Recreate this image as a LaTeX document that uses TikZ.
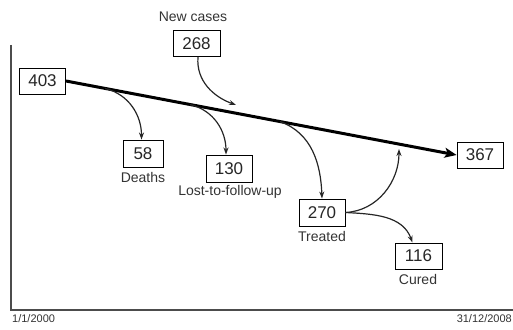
\documentclass[tikz,border=0pt]{standalone}
\usepackage{fontspec}
\setmainfont{Liberation Sans}
\usetikzlibrary{arrows.meta,calc}
\begin{document}
\begin{tikzpicture}[x=1pt,y=1pt,
  box/.style={draw=black,line width=0.9pt,minimum width=#1,minimum height=26pt,inner sep=0pt,font=\fontsize{17}{20}\selectfont,text=black!85},
  lab/.style={inner sep=0pt,font=\fontsize{14}{16}\selectfont,text=black!80},
  datelab/.style={inner sep=0pt,font=\fontsize{11}{13}\selectfont,text=black!80},
  flow/.style={line width=1.2pt,draw=black!85,-{Stealth[length=7pt,width=5pt]}},
  mainflow/.style={line width=3pt,draw=black,-{Stealth[length=12pt,width=10pt,inset=3pt]}},
  axis/.style={line width=1.4pt,draw=black!70}]
\useasboundingbox (0,0) rectangle (513,329);
% axes
\coordinate (ytop) at (11,284);
\coordinate (orig) at (11,19);
\coordinate (xend) at (513,19);
\draw[axis] (ytop) -- (orig) -- (xend);
\node[datelab,anchor=west] (d1) at (12,10) {1/1/2000};
\node[datelab,anchor=east] (d2) at (512,10) {31/12/2008};
% boxes
\node[box=46pt] (n403) at (42.5,248) {403};
\node[box=47pt] (n268) at (196.5,285.5) {268};
\node[lab] (lnew) at (193,312) {New cases};
\node[box=40pt,minimum height=27pt] (n58) at (143,175.5) {58};
\node[lab] (l58) at (143,152) {Deaths};
\node[box=46pt,minimum height=27pt] (n130) at (229,160.5) {130};
\node[lab] (l130) at (230,137) {Lost-to-follow-up};
\node[box=46pt,minimum height=27pt] (n270) at (322,116.5) {270};
\node[lab] (l270) at (322,93) {Treated};
\node[box=47pt] (n116) at (418.5,73) {116};
\node[lab] (l116) at (418,50) {Cured};
\node[box=46pt] (n367) at (480,174) {367};
% main flow
\draw[mainflow] (n403.east) -- (n367.west);
\coordinate (p1) at ($(n403.east)!0.10!(n367.west)$);
\coordinate (p2) at ($(n403.east)!0.318!(n367.west)$);
\coordinate (p3) at ($(n403.east)!0.548!(n367.west)$);
\coordinate (pin) at (236,224);
\coordinate (pback) at (399,180);
% branches
\draw[flow] (p1) to[out=-14,in=90] ([xshift=-1.5pt]n58.north);
\draw[flow] (p2) to[out=-14,in=90] ([xshift=-3pt]n130.north);
\draw[flow] (p3) to[out=-20,in=92] (n270.north);
\draw[flow] ([xshift=1.5pt]n268.south) to[out=-95,in=160] (pin);
\draw[flow] (n270.east) to[out=3,in=-90] (pback);
\draw[flow] (n270.east) to[out=-3,in=110] ([xshift=-6pt]n116.north);
\end{tikzpicture}
\end{document}
